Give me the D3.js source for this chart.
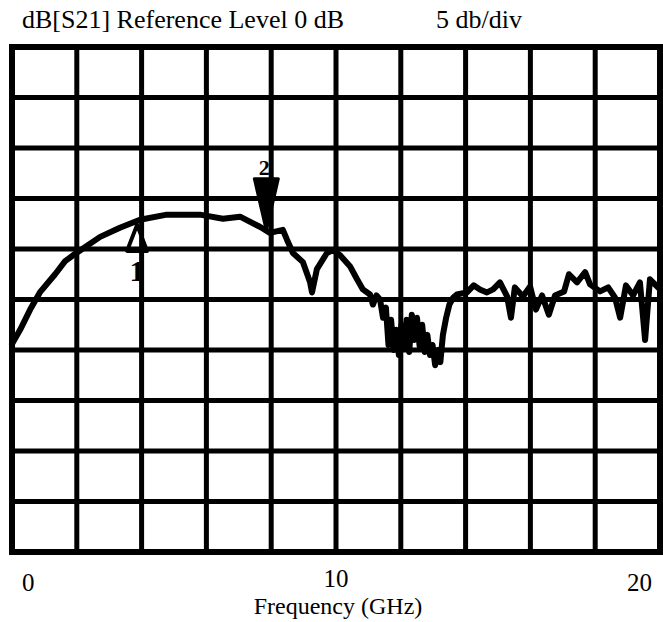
<!DOCTYPE html>
<html>
<head>
<meta charset="utf-8">
<script src="https://cdn.jsdelivr.net/npm/d3@7/dist/d3.min.js"></script>
<style>
  html, body { margin: 0; padding: 0; background: #fff; }
  svg { display: block; }
  text { font-family: "Liberation Serif", "Times New Roman", serif; fill: #000; }
</style>
</head>
<body>
<svg id="chart" width="663" height="622"></svg>
<script>
// ---- data ----
const freqGHz = [0, 0.25, 0.56, 0.86, 1.33, 1.64, 1.94, 2.72, 3.33, 3.95, 4.78, 5.80, 6.51, 7.04, 7.65, 7.96,
  8.36, 8.49, 8.67, 8.98, 9.20, 9.26, 9.41, 9.72, 9.91, 10.12, 10.43, 10.65, 10.83, 11.05,
  11.14, 11.25, 11.36, 11.45, 11.54, 11.62, 11.70, 11.78, 11.86, 11.94, 12.02, 12.10, 12.18, 12.26, 12.34,
  12.42, 12.50, 12.58, 12.66, 12.74, 12.82, 12.90, 12.98, 13.06, 13.14, 13.22, 13.30, 13.40, 13.50, 13.62,
  13.73, 14.04, 14.25, 14.44, 14.66, 14.85, 15.06, 15.28, 15.40, 15.52, 15.77, 15.99, 16.17, 16.36, 16.57, 16.76,
  17.04, 17.19, 17.44, 17.69, 17.84, 18.15, 18.40, 18.61, 18.77, 18.95, 19.17, 19.38, 19.54, 19.69, 20.0];
const s21dB = [-29.4, -28.0, -26.0, -24.3, -22.5, -21.2, -20.5, -18.8, -17.9, -17.1, -16.6, -16.6, -17.0, -16.8, -17.8, -18.4,
  -18.1, -19.1, -20.4, -21.3, -23.3, -24.3, -22.0, -20.4, -20.1, -20.6, -21.7, -23.0, -24.0, -24.5,
  -25.5, -24.6, -25.0, -26.8, -25.8, -29.5, -27.0, -30.0, -28.0, -30.5, -27.5, -29.8, -27.0, -30.2, -26.5,
  -29.0, -26.8, -29.6, -27.5, -30.2, -28.5, -30.5, -29.5, -31.5, -30.0, -31.2, -28.5, -26.8, -25.5, -24.8,
  -24.5, -24.3, -23.6, -24.0, -24.3, -24.0, -23.3, -24.7, -26.8, -23.8, -24.7, -23.7, -26.0, -24.6, -26.5, -24.6,
  -24.2, -22.5, -23.3, -22.3, -23.5, -24.2, -23.8, -24.8, -26.8, -23.6, -24.6, -23.3, -29.0, -23.0, -24.0];
const markerNames = ["1", "2"];
const markerFreq = [3.86, 7.85];
const markerDir = ["up", "down"];
const xTickValues = [0, 10, 20];
const xGridValues = d3.range(0, 21, 2);
const yGridValues = d3.range(-50, 1, 5);
const titleLeft = "dB[S21] Reference Level 0 dB";
const titleRight = "5 db/div";
const xAxisTitle = "Frequency (GHz)";

(function () {
// ---- layout ----
const svg = d3.select("#chart");
const mLeft = 12, mRight = 660, mTop = 47, mBottom = 552;
const x = d3.scaleLinear().domain([0, 20]).range([mLeft, mRight]);
const y = d3.scaleLinear().domain([-50, 0]).range([mBottom, mTop]);

// grid
const g = svg.append("g");
g.selectAll("line.v").data(xGridValues).join("line")
  .attr("x1", d => x(d)).attr("x2", d => x(d))
  .attr("y1", mTop).attr("y2", mBottom)
  .attr("stroke", "#000").attr("stroke-width", d => (d === 0 || d === 20) ? 6 : 5);
g.selectAll("line.h").data(yGridValues).join("line")
  .attr("y1", d => y(d)).attr("y2", d => y(d))
  .attr("x1", mLeft - 3).attr("x2", mRight + 3)
  .attr("stroke", "#000").attr("stroke-width", d => (d === -50 || d === 0) ? 6 : 5);

// trace
const pts = freqGHz.map((f, i) => [f, s21dB[i]]);
const line = d3.line().x(d => x(d[0])).y(d => y(d[1]));
svg.append("path").datum(pts)
  .attr("d", line)
  .attr("fill", "none").attr("stroke", "#000")
  .attr("stroke-width", 6).attr("stroke-linejoin", "round").attr("stroke-linecap", "round");

// markers
const interp = f => {
  const i = d3.bisectLeft(freqGHz, f);
  if (i <= 0) return s21dB[0];
  const f0 = freqGHz[i - 1], f1 = freqGHz[i];
  const t = (f - f0) / (f1 - f0);
  return s21dB[i - 1] + t * (s21dB[i] - s21dB[i - 1]);
};
markerNames.forEach((name, i) => {
  const mx = x(markerFreq[i]);
  const my = y(interp(markerFreq[i]));
  if (markerDir[i] === "down") {
    svg.append("path")
      .attr("d", `M${mx},${my} L${mx - 12},${my - 52} L${mx + 12},${my - 52} Z`)
      .attr("fill", "#000").attr("stroke", "#000").attr("stroke-width", 3).attr("stroke-linejoin", "round");
    svg.append("text").attr("x", mx - 2).attr("y", my - 56)
      .attr("text-anchor", "middle").attr("font-size", 22).attr("font-weight", "bold").text(name);
  } else {
    svg.append("path")
      .attr("d", `M${mx},${my + 4} L${mx - 10},${my + 30} L${mx + 10},${my + 30} Z`)
      .attr("fill", "none").attr("stroke", "#000").attr("stroke-width", 4).attr("stroke-linejoin", "round");
    svg.append("text").attr("x", mx).attr("y", my + 60)
      .attr("text-anchor", "middle").attr("font-size", 30).attr("font-weight", "bold").text(name);
  }
});

// x tick labels
svg.append("g").selectAll("text").data(xTickValues).join("text")
  .attr("x", d => x(d) + (d === 0 ? 10 : d === 20 ? -8 : 0))
  .attr("y", d => d === 10 ? 587 : 591)
  .attr("text-anchor", d => d === 0 ? "start" : d === 20 ? "end" : "middle")
  .attr("font-size", 25)
  .text(d => d);

// titles
svg.append("text").attr("x", 22).attr("y", 28).attr("font-size", 26).text(titleLeft);
svg.append("text").attr("x", 436).attr("y", 28).attr("font-size", 26).text(titleRight);
svg.append("text").attr("x", 338).attr("y", 614).attr("text-anchor", "middle").attr("font-size", 24).text(xAxisTitle);
})();
</script>
</body>
</html>
